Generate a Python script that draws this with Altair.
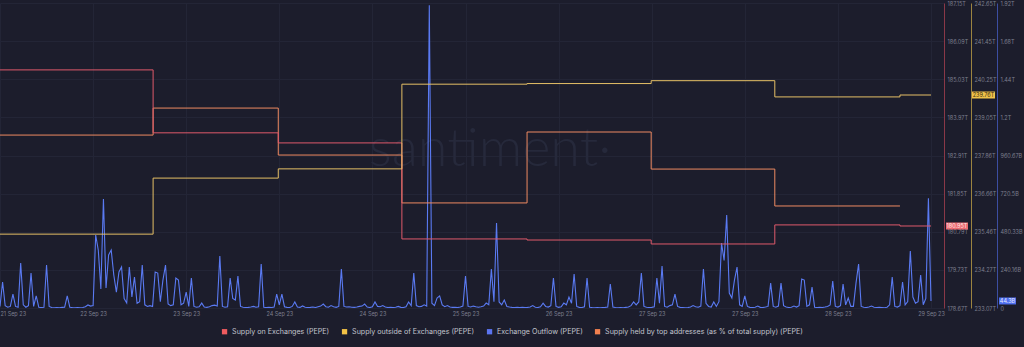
import json
import altair as alt
import pandas as pd

# ---------------- data ----------------
x_tick_hours = [0, 18, 36, 54, 72, 90, 108, 126, 144, 162, 180]
x_tick_labels = ["21 Sep 23", "22 Sep 23", "23 Sep 23", "24 Sep 23", "24 Sep 23", "25 Sep 23",
                 "26 Sep 23", "27 Sep 23", "27 Sep 23", "28 Sep 23", "29 Sep 23"]

step_hours = [0, 29.6, 53.8, 77.7, 101.9, 125.9, 149.8, 174.0, 180.0]
supply_on_exchanges = [185.29, 183.54, 183.26, 180.59, 180.56, 180.45, 180.98, 180.95, 180.95]  # T
supply_outside = [235.39, 237.15, 237.44, 240.10, 240.12, 240.21, 239.70, 239.76, 239.76]       # T

top_hours = [0, 29.6, 53.8, 77.7, 101.9, 125.9, 149.8, 174.0]
top_holders_pct = [37.134, 37.311, 37.003, 36.689, 37.154, 36.911, 36.669, 36.669]

# Exchange outflow, half-hourly, in billions
outflow = [
    10, 164, 15, 5, 10, 88, 10, 5, 283, 20, 5, 15, 220, 10, 76, 5, 3, 5, 271, 10,
    3, 2, 3, 2, 4, 5, 76, 5, 3, 2, 3, 2, 3, 8, 19, 12, 15, 460, 365, 120,
    686, 126, 334, 365, 208, 100, 227, 258, 60, 32, 258, 69, 195, 30, 40, 271, 20, 10, 15, 10,
    227, 220, 40, 176, 271, 25, 15, 20, 189, 176, 20, 30, 100, 10, 189, 10, 5, 8, 31, 6,
    4, 8, 15, 18, 12, 327, 10, 5, 8, 189, 60, 50, 201, 10, 5, 3, 4, 6, 10, 5,
    8, 277, 5, 3, 4, 3, 6, 88, 20, 88, 8, 4, 3, 10, 38, 6, 4, 13, 5, 3,
    4, 6, 3, 8, 12, 25, 8, 5, 15, 8, 4, 10, 245, 10, 6, 8, 5, 4, 6, 10,
    12, 25, 6, 3, 8, 38, 10, 8, 15, 6, 3, 4, 3, 5, 10, 4, 3, 8, 38, 15,
    220, 15, 8, 10, 20, 12, 1907, 30, 15, 63, 76, 20, 8, 15, 6, 4, 5, 3, 6, 12,
    201, 10, 6, 12, 8, 5, 8, 12, 31, 20, 245, 40, 535, 38, 20, 50, 10, 6, 4, 3,
    4, 3, 5, 3, 4, 6, 15, 5, 3, 8, 31, 10, 6, 15, 189, 10, 4, 8, 31, 20,
    69, 30, 214, 10, 4, 3, 8, 189, 5, 3, 2, 3, 2, 3, 4, 6, 151, 6, 3, 2,
    3, 2, 4, 6, 15, 38, 20, 38, 220, 10, 5, 3, 4, 8, 189, 30, 264, 10, 5, 15,
    20, 88, 10, 4, 3, 2, 3, 6, 15, 8, 5, 12, 245, 30, 10, 6, 38, 10, 40, 409,
    300, 585, 94, 63, 176, 258, 20, 10, 76, 10, 4, 3, 5, 12, 4, 3, 6, 10, 157, 10,
    5, 12, 157, 15, 6, 3, 5, 12, 6, 15, 183, 176, 10, 20, 132, 5, 3, 4, 3, 6,
    10, 19, 170, 10, 6, 15, 151, 20, 63, 10, 10, 157, 277, 10, 5, 3, 6, 12, 5, 3,
    4, 3, 2, 5, 20, 195, 10, 6, 15, 164, 20, 40, 359, 69, 30, 40, 208, 20, 60, 692, 44.3,
]
outflow_hours = [i * 0.5 for i in range(len(outflow))]

red_ticks = [178.67, 179.73, 180.79, 181.85, 182.91, 183.97, 185.03, 186.09, 187.15]
yellow_ticks = [233.07, 234.27, 235.46, 236.66, 237.86, 239.05, 240.25, 241.45, 242.65]
blue_ticks = [0, 240.16, 480.33, 720.5, 960.67, 1200.83, 1441.0, 1681.16, 1921.33]

series_names = ["Supply on Exchanges (PEPE)", "Supply outside of Exchanges (PEPE)",
                "Exchange Outflow (PEPE)", "Supply held by top addresses (as % of total supply) (PEPE)"]
legend_colors = ["#ef5b5f", "#f3c246", "#5b74f0", "#f2804f"]

# ---------------- style ----------------
BG = "#1c1d2c"
FONT = "Inter"
LBL = "#7c7f8e"
RED, YEL, BLU, ORA = "#df5a6b", "#e5bf66", "#5a7af2", "#ee8a62"
W, H = 944, 305

df_red = pd.DataFrame({"h": step_hours, "v": supply_on_exchanges})
df_yel = pd.DataFrame({"h": step_hours, "v": supply_outside})
df_ora = pd.DataFrame({"h": top_hours, "v": top_holders_pct})
df_blu = pd.DataFrame({"h": outflow_hours, "v": outflow})

xscale = alt.Scale(domain=[0, 180 * W / 931], nice=False, zero=False)
x_expr = json.dumps(x_tick_labels) + "[round(datum.value / 18)]"
xaxis = alt.Axis(values=x_tick_hours, labelExpr=x_expr, title=None, domain=False, ticks=False,
                 labelColor=LBL, labelFontSize=5.5, labelFont=FONT, labelPadding=3,
                 labelFlush=1, grid=True, gridColor="#232536", gridWidth=1, labelOverlap=False)
X = alt.X("h:Q", scale=xscale, axis=xaxis)


def yaxis(vals, expr, color, offset, grid=False):
    return alt.Axis(orient="right", offset=offset, values=vals, labelExpr=expr, title=None,
                    ticks=False, domainColor=color, domainWidth=1, labelColor=LBL,
                    labelFontSize=5.5, labelFont=FONT, labelPadding=3, labelOverlap=False,
                    labelFlush=False, grid=grid, gridColor="#232536")


red_scale = alt.Scale(domain=[178.67, 187.15], nice=False, zero=False)
yel_scale = alt.Scale(domain=[233.07, 242.65], nice=False, zero=False)
blu_scale = alt.Scale(domain=[0, 1921.33], nice=False, zero=False)
ora_scale = alt.Scale(domain=[36.0, 38.0], nice=False, zero=False)

Yred = alt.Y("v:Q", scale=red_scale,
             axis=yaxis(red_ticks, "format(datum.value, '.2f') + 'T'", "#8a3848", 0, grid=True))
Yyel = alt.Y("v:Q", scale=yel_scale,
             axis=yaxis(yellow_ticks, "format(datum.value, '.2f') + 'T'", "#9c8440", 27))
blue_expr = ("datum.value == 0 ? '0' : (datum.value >= 1000 ? format(datum.value / 1000, '.2~f') + 'T' "
             ": format(datum.value, '.2~f') + 'B')")
Yblu = alt.Y("v:Q", scale=blu_scale, axis=yaxis(blue_ticks, blue_expr, "#3c4ea2", 53))

watermark = alt.Chart(pd.DataFrame({"t": ["santiment·"]})).mark_text(
    fontSize=54, font="Lato", fontWeight=300, color="#26293b", align="center", baseline="middle"
).encode(x=alt.value(490), y=alt.value(147), text="t:N")

blue_line = alt.Chart(df_blu).mark_line(color=BLU, strokeWidth=1.1, clip=True).encode(x=X, y=Yblu)
ora_line = alt.Chart(df_ora).mark_line(color=ORA, strokeWidth=1, interpolate="step-after").encode(
    x=X, y=alt.Y("v:Q", scale=ora_scale, axis=None))
red_line = alt.Chart(df_red).mark_line(color=RED, strokeWidth=1, interpolate="step-after").encode(x=X, y=Yred)
yel_line = alt.Chart(df_yel).mark_line(color=YEL, strokeWidth=1, interpolate="step-after").encode(x=X, y=Yyel)


def badge(value, text, fill, tcolor, xc, width, Y):
    d = pd.DataFrame({"v": [value], "t": [text]})
    box = alt.Chart(d).mark_tick(orient="horizontal", size=width, thickness=7, color=fill, opacity=1).encode(
        x=alt.value(xc), y=Y)
    lab = alt.Chart(d).mark_text(fontSize=5.5, font=FONT, color=tcolor, align="center", baseline="middle").encode(
        x=alt.value(xc), y=Y, text="t:N")
    return box, lab


rb, rt = badge(supply_on_exchanges[-1], "180.95T", "#ec6b72", "#fde6e6", 957, 22, Yred)
yb, yt = badge(supply_outside[-1], "239.76T", "#f0c24a", "#3a2c10", 983.5, 23, Yyel)
bb, bt = badge(outflow[-1], "44.3B", "#4e6ff0", "#e6ebff", 1007.5, 17, Yblu)

red_group = alt.layer(red_line, rb, rt)
yel_group = alt.layer(yel_line, yb, yt)
blu_group = alt.layer(blue_line, bb, bt)

legend_layer = alt.Chart(pd.DataFrame({"series": series_names})).mark_square(opacity=0).encode(
    x=alt.value(0), y=alt.value(0),
    color=alt.Color("series:N", scale=alt.Scale(domain=series_names, range=legend_colors),
                    legend=alt.Legend(orient="none", legendX=221, legendY=325, direction="horizontal",
                                      title=None, symbolType="square", symbolSize=28, symbolOpacity=1,
                                      symbolStrokeWidth=0, labelColor="#c3c5cf", labelFontSize=7.1,
                                      labelFont=FONT, labelLimit=0, columnPadding=11, labelOffset=4,
                                      padding=0)))

chart = alt.layer(watermark, blu_group, ora_line, red_group, yel_group, legend_layer).resolve_scale(
    y="independent"
).properties(
    width=W, height=H,
    autosize=alt.AutoSizeParams(type="none"),
    padding={"left": 0, "top": 3, "right": 1024 - W, "bottom": 347 - 3 - H},
).configure(background=BG).configure_view(stroke=None)

chart.save("out.html", embed_options={"renderer": "svg", "actions": False})
